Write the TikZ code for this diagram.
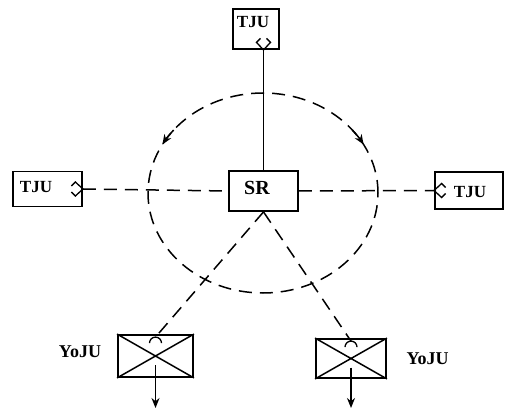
\documentclass[tikz,border=0pt]{standalone}
\usepackage{fontspec}
\setmainfont{Liberation Serif}
\usetikzlibrary{arrows.meta}
\begin{document}
\begin{tikzpicture}[
  x=1pt, y=1pt, line width=1.5pt,
  unit/.style={draw, line width=1.8pt, inner sep=0pt},
  tag/.style={font=\fontsize{17}{19}\selectfont\bfseries, inner sep=0pt},
  link/.style={dash pattern=on 13pt off 8pt},
  plug/.pic={\draw[line width=1.3pt] (-3,11.5) -- (-7,7.5) -- (0,0) -- (7,7.5) -- (3,11.5);},
  >={Stealth[length=10pt,width=8pt]}
]
  \useasboundingbox (0,0) rectangle (506,410);
  % switching ring and its units
  \coordinate (hub) at (263,217);
  \draw[link] (hub) ellipse [x radius=115, y radius=100];
  \draw[->] (hub) ++(141:115 and 100) arc[start angle=141, end angle=151, x radius=115, y radius=100];
  \draw[->] (hub) ++(39:115 and 100) arc[start angle=39, end angle=29, x radius=115, y radius=100];
  \node[unit, minimum width=69pt, minimum height=40pt] (SR) at (263.5,219) {};
  \node[tag, font=\fontsize{20}{22}\selectfont\bfseries] (SRtxt) at (257,222) {SR};
  \node[unit, minimum width=46pt, minimum height=40pt] (tjuT) at (256,381) {};
  \node[tag] (tjuTtxt) at (253,387.5) {TJU};
  \node[unit, minimum width=69pt, minimum height=35pt] (tjuL) at (47.5,221) {};
  \node[tag] (tjuLtxt) at (36,223) {TJU};
  \node[unit, minimum width=68pt, minimum height=37pt] (tjuR) at (469,219.5) {};
  \node[tag] (tjuRtxt) at (470,218) {TJU};
  \pic at (SR.north |- tjuT.south) {plug};
  \pic[rotate=90] at (tjuL.east) {plug};
  \pic[rotate=-90] at (tjuR.west) {plug};
  \draw (SR.north) -- (SR.north |- tjuT.south);
  \draw[link] (tjuL.east) -- (SR.west);
  \draw[link] (SR.east) -- (tjuR.west);
  % subscriber units
  \node[unit, minimum width=75pt, minimum height=42pt] (yojuL) at (155.5,54) {};
  \node[unit, minimum width=70pt, minimum height=39pt] (yojuR) at (351,51.5) {};
  \draw (yojuL.north west) -- (yojuL.south east) (yojuL.north east) -- (yojuL.south west);
  \draw (yojuR.north west) -- (yojuR.south east) (yojuR.north east) -- (yojuR.south west);
  \node[tag, font=\fontsize{18}{20}\selectfont\bfseries] (labL) at (80,58) {YoJU};
  \node[tag, font=\fontsize{18}{20}\selectfont\bfseries] (labR) at (427.5,51) {YoJU};
  \coordinate (hookL) at ([yshift=-3pt]yojuL.north);
  \coordinate (hookR) at ([yshift=-3pt]yojuR.north);
  \draw[line width=1.3pt] (hookL) ++(-6,-6) arc[start angle=180, end angle=0, radius=6];
  \draw[line width=1.3pt] (hookR) ++(-6,-6) arc[start angle=180, end angle=0, radius=6];
  \draw[link] (SR.south) -- (hookL);
  \draw[link] (SR.south) -- (hookR);
  \coordinate (outL) at (155.5,2);
  \coordinate (outR) at (351,2);
  \draw[->] ([yshift=-9pt]yojuL.center) -- (outL);
  \draw[->] ([yshift=-9pt]yojuR.center) -- (outR);
\end{tikzpicture}
\end{document}
